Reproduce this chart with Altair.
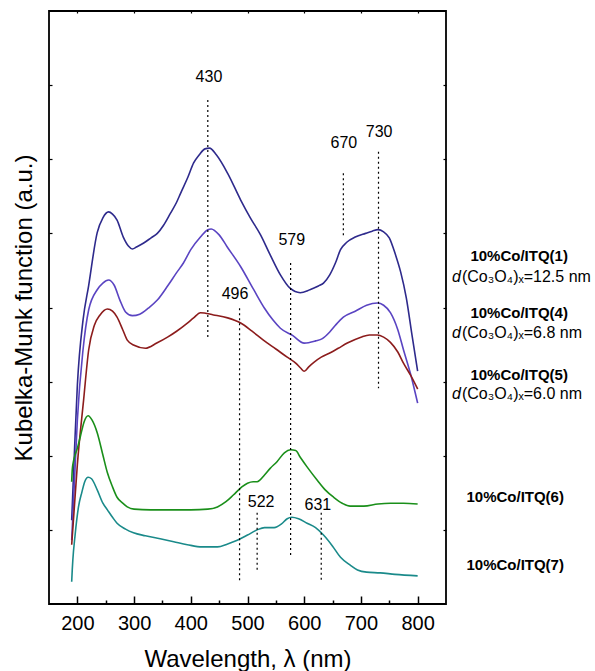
import altair as alt
import pandas as pd

# ---------------- data ----------------
series_names = ["10%Co/ITQ(1)", "10%Co/ITQ(4)", "10%Co/ITQ(5)", "10%Co/ITQ(6)", "10%Co/ITQ(7)"]
series_colors = ["#2e2a8c", "#5a44c2", "#8c1c1c", "#1a8f1a", "#1a8a8a"]

wl_1 = [190, 195, 200, 210, 220, 235, 245, 255, 262, 270, 281, 290, 297, 305, 317, 330, 341, 352, 364, 375,
        382, 395, 405, 415, 425, 433, 445, 465, 488, 505, 523, 540, 558, 575, 593, 610, 625, 634, 645, 655,
        664, 675, 690, 708, 720, 730, 740, 750, 761, 770, 780, 790, 800]
km_1 = [1.13, 2.08, 2.95, 3.83, 4.30, 5.01, 5.21, 5.29, 5.26, 5.18, 4.95, 4.83, 4.79, 4.82, 4.87, 4.94, 5.00, 5.11, 5.27, 5.42,
        5.54, 5.76, 5.95, 6.06, 6.14, 6.15, 6.06, 5.81, 5.45, 5.21, 4.98, 4.71, 4.44, 4.26, 4.20, 4.24, 4.29, 4.33, 4.44, 4.60,
        4.78, 4.88, 4.95, 5.00, 5.03, 5.05, 5.02, 4.94, 4.71, 4.48, 4.13, 3.63, 3.14]

wl_4 = [190, 195, 200, 210, 220, 235, 245, 255, 265, 275, 285, 297, 310, 325, 341, 360, 375, 387, 400, 417,
        430, 436, 450, 464, 488, 511, 530, 545, 558, 580, 600, 620, 632, 645, 655, 669, 690, 710, 729, 740,
        752, 765, 775, 788, 800]
km_4 = [0.86, 1.67, 2.48, 3.43, 3.97, 4.24, 4.33, 4.37, 4.30, 4.10, 3.94, 3.89, 3.91, 3.99, 4.10, 4.30, 4.47, 4.60, 4.78, 4.95,
        5.05, 5.06, 4.98, 4.82, 4.55, 4.24, 3.99, 3.83, 3.72, 3.62, 3.52, 3.55, 3.58, 3.67, 3.76, 3.87, 3.95, 4.03, 4.06, 4.03,
        3.93, 3.70, 3.43, 3.09, 2.71]

wl_5 = [190, 195, 200, 211, 220, 230, 240, 253, 262, 270, 280, 288, 300, 320, 340, 359, 375, 394, 405, 417,
        440, 465, 488, 508, 528, 550, 570, 585, 594, 600, 608, 617, 630, 646, 660, 676, 700, 715, 729, 740,
        752, 765, 775, 788, 800]
km_5 = [0.80, 1.34, 1.88, 2.75, 3.43, 3.76, 3.90, 3.98, 3.95, 3.87, 3.70, 3.56, 3.49, 3.45, 3.52, 3.60, 3.68, 3.79, 3.86, 3.93,
        3.90, 3.86, 3.79, 3.68, 3.56, 3.44, 3.33, 3.25, 3.18, 3.14, 3.20, 3.26, 3.33, 3.39, 3.45, 3.52, 3.60, 3.63, 3.63, 3.60,
        3.53, 3.40, 3.25, 3.08, 2.90]

wl_6 = [190, 191, 193, 196, 200, 205, 212, 219, 226, 235, 245, 253, 262, 270, 280, 288, 300, 329, 360, 400,
        430, 447, 462, 475, 490, 500, 510, 517, 530, 540, 552, 565, 576, 585, 593, 605, 623, 637, 652, 667,
        681, 705, 730, 752, 775, 800]
km_6 = [1.65, 1.81, 1.92, 2.01, 2.10, 2.25, 2.46, 2.54, 2.48, 2.31, 2.01, 1.77, 1.58, 1.44, 1.36, 1.31, 1.28, 1.27, 1.27, 1.27,
        1.28, 1.31, 1.38, 1.47, 1.58, 1.63, 1.65, 1.65, 1.74, 1.83, 1.92, 2.04, 2.08, 2.07, 1.98, 1.85, 1.67, 1.54, 1.44, 1.36,
        1.32, 1.32, 1.35, 1.36, 1.36, 1.35]

wl_7 = [190, 191, 192, 196, 202, 208, 213, 219, 225, 235, 245, 253, 262, 270, 285, 299, 320, 346, 370, 394,
        420, 447, 465, 482, 500, 517, 530, 547, 560, 570, 578, 590, 605, 620, 634, 650, 664, 680, 694, 710,
        734, 760, 800]
km_7 = [0.30, 0.46, 0.59, 0.93, 1.31, 1.51, 1.65, 1.71, 1.69, 1.54, 1.36, 1.27, 1.17, 1.09, 1.01, 0.96, 0.92, 0.88, 0.84, 0.80,
        0.77, 0.77, 0.81, 0.86, 0.93, 1.00, 1.03, 1.03, 1.08, 1.15, 1.17, 1.15, 1.09, 1.03, 0.93, 0.78, 0.63, 0.53, 0.46, 0.43,
        0.42, 0.40, 0.38]

# dotted marker lines
peak_labels = ["430", "496", "522", "579", "631", "670", "730"]
peak_line_x = [430, 486, 517, 576, 630, 669, 731]
peak_line_top = [6.80, 3.99, 1.23, 4.60, 1.23, 5.81, 6.10]
peak_line_bottom = [3.58, 0.28, 0.42, 0.63, 0.32, 4.94, 2.91]
peak_label_x = [432, 478, 524, 578, 624, 670, 732]
peak_label_y = [7.11, 4.18, 1.38, 4.91, 1.34, 6.22, 6.37]

# sample labels on the right
sample_labels = ["10%Co/ITQ(1)", "10%Co/ITQ(4)", "10%Co/ITQ(5)", "10%Co/ITQ(6)", "10%Co/ITQ(7)"]
sample_label_x = [979, 979, 979, 972, 972]
sample_label_y = [4.69, 3.93, 3.09, 1.44, 0.53]
size_texts = ["(Co\u2083O\u2084)\u2093=12.5 nm", "(Co\u2083O\u2084)\u2093=6.8 nm", "(Co\u2083O\u2084)\u2093=6.0 nm"]
size_x = [878, 878, 878]
size_y = [4.41, 3.66, 2.83]

x_ticks = [200, 300, 400, 500, 600, 700, 800]
x_minor = [250, 350, 450, 550, 650, 750]
y_ticks = [1, 2, 3, 4, 5, 6, 7]

# ---------------- tables ----------------
rows = []
for name, wl, km in zip(series_names, [wl_1, wl_4, wl_5, wl_6, wl_7], [km_1, km_4, km_5, km_6, km_7]):
    for a, b in zip(wl, km):
        rows.append({"series": name, "wl": a, "km": b})
curves = pd.DataFrame(rows)

marks = pd.DataFrame({"x": peak_line_x, "y": peak_line_top, "y2": peak_line_bottom})
plabels = pd.DataFrame({"x": peak_label_x, "y": peak_label_y, "t": peak_labels})
slabels = pd.DataFrame({"x": sample_label_x, "y": sample_label_y, "t": sample_labels})
sizes = pd.DataFrame({"x": size_x, "y": size_y, "t": size_texts, "d": ["d"] * 3})

FONT = "Liberation Sans"
xscale = alt.Scale(domain=[150, 850], nice=False, zero=False)
yscale = alt.Scale(domain=[0, 8], nice=False, zero=False)

lines = alt.Chart(curves).mark_line(strokeWidth=1.6, interpolate="monotone").encode(
    x=alt.X("wl:Q", scale=xscale,
            axis=alt.Axis(orient="bottom", values=x_ticks, title="Wavelength, \u03bb (nm)",
                          tickSize=0, domain=False, grid=False, labelFontSize=20, labelFont=FONT,
                          labelColor="black", labelPadding=9, titleFont=FONT, titleFontSize=24,
                          titleFontWeight="normal", titleColor="black", titlePadding=14)),
    y=alt.Y("km:Q", scale=yscale,
            axis=alt.Axis(orient="left", title="Kubelka-Munk function (a.u.)", labels=False, ticks=False,
                          domain=False, grid=False, titleFont=FONT, titleFontSize=24,
                          titleFontWeight="normal", titleColor="black", titlePadding=13)),
    color=alt.Color("series:N", scale=alt.Scale(domain=series_names, range=series_colors), legend=None),
    detail="series:N",
)

rules = alt.Chart(marks).mark_rule(color="black", strokeDash=[2, 3], strokeWidth=1.2).encode(
    x=alt.X("x:Q", scale=xscale,
            axis=alt.Axis(orient="top", offset=-593, values=x_ticks, tickSize=8, tickWidth=1.5,
                          tickColor="black", labels=False, domain=False, grid=False, title=None)),
    y=alt.Y("y:Q", scale=yscale,
            axis=alt.Axis(orient="right", offset=-397, values=y_ticks, tickSize=3, tickWidth=1.2,
                          tickColor="black", labels=False, domain=False, grid=False, title=None)),
    y2="y2:Q",
)

ptext = alt.Chart(plabels).mark_text(fontSize=16, font=FONT, color="black", align="center",
                                      baseline="middle").encode(
    x=alt.X("x:Q", scale=xscale,
            axis=alt.Axis(orient="top", offset=-593, values=x_minor, tickSize=4, tickWidth=1.5,
                          tickColor="black", labels=False, domain=False, grid=False, title=None)),
    y=alt.Y("y:Q", scale=yscale,
            axis=alt.Axis(orient="left", offset=-397, values=y_ticks, tickSize=3, tickWidth=1.2,
                          tickColor="black", labels=False, domain=False, grid=False, title=None)),
    text="t:N",
)

stext = alt.Chart(slabels).mark_text(fontSize=15, font=FONT, fontWeight="bold", color="black",
                                      align="center", baseline="middle").encode(
    x=alt.X("x:Q", scale=xscale,
            axis=alt.Axis(orient="bottom", offset=-593, values=x_ticks, tickSize=2, tickWidth=1.2,
                          tickColor="black", labels=False, domain=False, grid=False, title=None)),
    y=alt.Y("y:Q", scale=yscale, axis=None),
    text="t:N",
)

dtext = alt.Chart(sizes).mark_text(fontSize=16, font=FONT, fontStyle="italic", color="black",
                                    align="right", baseline="middle", dx=-1).encode(
    x=alt.X("x:Q", scale=xscale, axis=None),
    y=alt.Y("y:Q", scale=yscale, axis=None),
    text="d:N",
)

rtext = alt.Chart(sizes).mark_text(fontSize=16, font=FONT, color="black",
                                    align="left", baseline="middle").encode(
    x=alt.X("x:Q", scale=xscale, axis=None),
    y=alt.Y("y:Q", scale=yscale, axis=None),
    text="t:N",
)

chart = alt.layer(lines, rules, ptext, stext, dtext, rtext).resolve_axis(
    x="independent", y="independent"
).properties(
    width=397, height=593,
    autosize=alt.AutoSizeParams(type="none"),
    padding={"left": 49, "top": 11, "right": 149, "bottom": 67},
    background="white",
).configure_view(stroke="black", strokeWidth=1.8)

chart.save("out.html", embed_options={"renderer": "svg", "actions": False})
